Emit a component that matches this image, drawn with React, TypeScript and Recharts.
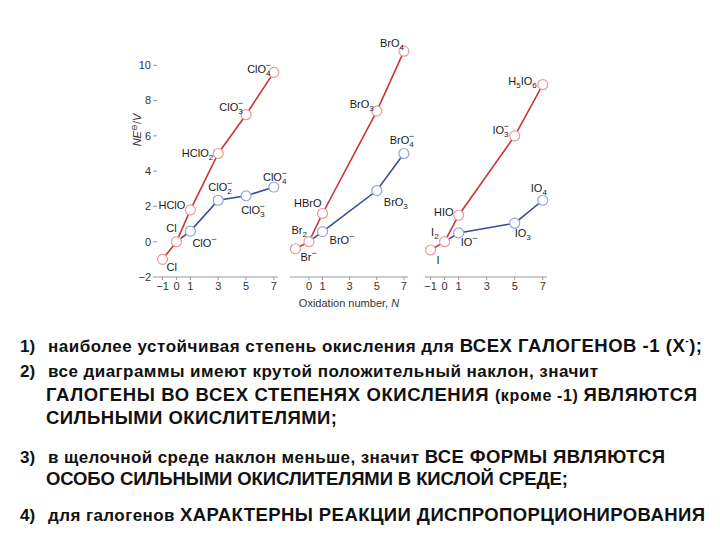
import React from 'react';
import { LineChart, Line, XAxis, YAxis, Label } from 'recharts';

// oxidation numbers, Frost diagram values (NE°/V) and species names
const clAcidOx = [-1, 0, 1, 3, 5, 7];
const clAcidVal = [-1.0, 0, 1.8, 5.0, 7.2, 9.6];
const clAcidNames = ['Cl', 'Cl', 'HClO', 'HClO2', 'ClO3-', 'ClO4-'];
const clBaseOx = [0, 1, 3, 5, 7];
const clBaseVal = [0, 0.6, 2.35, 2.6, 3.1];
const clBaseNames = ['', 'ClO-', 'ClO2-', 'ClO3-', 'ClO4-'];

const brAcidOx = [-1, 0, 1, 5, 7];
const brAcidVal = [-0.4, 0, 1.6, 7.4, 10.8];
const brAcidNames = ['Br-', 'Br2', 'HBrO', 'BrO3', 'BrO4'];
const brBaseOx = [0, 1, 5, 7];
const brBaseVal = [0, 0.57, 2.9, 5.0];
const brBaseNames = ['', 'BrO-', 'BrO3', 'BrO4-'];

const iAcidOx = [-1, 0, 1, 5, 7];
const iAcidVal = [-0.47, 0, 1.5, 6.0, 8.9];
const iAcidNames = ['I', 'I2', 'HIO', 'IO3-', 'H5IO6'];
const iBaseOx = [0, 1, 5, 7];
const iBaseVal = [0, 0.5, 1.05, 2.35];
const iBaseNames = ['', 'IO-', 'IO3', 'IO4'];

const xTicks = [-1, 0, 1, 3, 5, 7];
const yTicks = [-2, 0, 2, 4, 6, 8, 10];

// label placement next to each point: [dx, dy, anchor]
type Place = [number, number, 'start' | 'middle' | 'end'];
const clAcidPlace: Place[] = [[4, 12, 'start'], [-5, -10, 'middle'], [-5, -1, 'end'], [-5, 3, 'end'], [-3, -4, 'end'], [-3, 1, 'end']];
const clBasePlace: Place[] = [[0, 0, 'start'], [2, 16, 'start'], [2, -9, 'middle'], [7, 18, 'middle'], [1, -6, 'middle']];
const brAcidPlace: Place[] = [[5, 12, 'start'], [-2, -8, 'end'], [-1, -6, 'end'], [-3, -3, 'end'], [0, -4, 'end']];
const brBasePlace: Place[] = [[0, 0, 'start'], [7, 12, 'start'], [7, 15, 'start'], [-2, -10, 'middle']];
const iAcidPlace: Place[] = [[6, 14, 'start'], [-6, -6, 'end'], [-5, 1, 'end'], [-6, -2, 'end'], [-6, 0, 'end']];
const iBasePlace: Place[] = [[0, 0, 'start'], [2, 13, 'start'], [8, 14, 'middle'], [-4, -8, 'middle']];

const RED = '#cc3436';
const RED_DOT = '#ec9a9c';
const BLUE = '#3b4a9e';
const BLUE_DOT = '#98a4dc';
const FONT = '"Liberation Sans", Arial, sans-serif';

const toRows = (ox: number[], val: number[]) => ox.map((x, i) => ({ x, y: val[i] }));

function Formula({ x, y, anchor, text }: { x: number; y: number; anchor: string; text: string }) {
  const parts: React.ReactNode[] = [];
  let shift = 0;
  let prevSub = false;
  let buf = '';
  const flush = () => {
    if (!buf) return;
    parts.push(<tspan key={parts.length} dy={-shift} fontSize={11}>{buf}</tspan>);
    shift = 0;
    buf = '';
  };
  for (const ch of text) {
    if (/[0-9]/.test(ch)) {
      flush();
      parts.push(<tspan key={parts.length} dy={3 - shift} fontSize={8}>{ch}</tspan>);
      shift = 3;
      prevSub = true;
    } else if (ch === '-') {
      flush();
      parts.push(
        <tspan key={parts.length} dx={prevSub ? -5 : 0} dy={-5 - shift} fontSize={9}>−</tspan>
      );
      shift = -5;
      prevSub = false;
    } else {
      buf += ch;
      prevSub = false;
    }
  }
  flush();
  return (
    <text x={x} y={y} textAnchor={anchor} fontFamily={FONT} fill="#1a1a1a">
      {parts}
    </text>
  );
}

function makeDot(names: string[], places: Place[], stroke: string) {
  return (props: any) => {
    const { cx, cy, index } = props;
    const name = names[index];
    if (!name) return <g key={`d-${index}`} />;
    const [dx, dy, anchor] = places[index];
    return (
      <g key={`d-${index}`}>
        <circle cx={cx} cy={cy} r={5} fill="#fff" stroke={stroke} strokeWidth={1.2} />
        <Formula x={cx + dx} y={cy + dy} anchor={anchor} text={name} />
      </g>
    );
  };
}

interface PanelProps {
  left: number;
  plotWidth: number;
  acid: { x: number; y: number }[];
  base: { x: number; y: number }[];
  acidNames: string[];
  baseNames: string[];
  acidPlace: Place[];
  basePlace: Place[];
  yAxis?: boolean;
  xTitle?: boolean;
}

function Panel({ left, plotWidth, acid, base, acidNames, baseNames, acidPlace, basePlace, yAxis, xTitle }: PanelProps) {
  const yw = yAxis ? 37 : 0;
  return (
    <div style={{ position: 'absolute', left, top: 0 }}>
      <LineChart
        width={20 + yw + plotWidth + 20}
        height={330}
        margin={{ top: 30, right: 20, bottom: 33, left: 20 }}
      >
        <XAxis
          type="number"
          dataKey="x"
          domain={[-1.4, 7.3]}
          ticks={xTicks}
          height={20}
          tickSize={3}
          tickFormatter={(v) => (v < 0 ? `−${-v}` : `${v}`)}
          tick={{ fontSize: 11, fill: '#333', fontFamily: FONT }}
          stroke="#999"
        >
          {xTitle && (
            <Label
              content={({ viewBox }: any) => (
                <text
                  x={viewBox.x + viewBox.width / 2}
                  y={viewBox.y + 30}
                  textAnchor="middle"
                  fontSize={11}
                  fontFamily={FONT}
                  fill="#333"
                >
                  Oxidation number, <tspan fontStyle="italic">N</tspan>
                </text>
              )}
            />
          )}
        </XAxis>
        <YAxis
          type="number"
          domain={[-2, 12]}
          ticks={yAxis ? yTicks : []}
          width={yw}
          tick={yAxis ? { fontSize: 11, fill: '#333', fontFamily: FONT } : false}
          tickSize={4}
          tickFormatter={(v) => (v < 0 ? `−${-v}` : `${v}`)}
          tickLine={{ stroke: '#999' }}
          axisLine={yAxis ? false : { stroke: '#d0d0d0' }}
        >
          {yAxis && (
            <Label
              content={({ viewBox }: any) => (
                <text
                  x={viewBox.x + 21}
                  y={viewBox.y + 100}
                  transform={`rotate(-90 ${viewBox.x + 21} ${viewBox.y + 100})`}
                  textAnchor="middle"
                  fontSize={11}
                  fontFamily={FONT}
                  fill="#333"
                >
                  <tspan fontStyle="italic">NE</tspan>
                  <tspan fontSize={8} dy={-4}>⊖</tspan>
                  <tspan dy={4}>/</tspan>
                  <tspan fontStyle="italic">V</tspan>
                </text>
              )}
            />
          )}
        </YAxis>
        <Line
          data={base}
          dataKey="y"
          type="linear"
          stroke={BLUE}
          strokeWidth={1.6}
          dot={makeDot(baseNames, basePlace, BLUE_DOT)}
          activeDot={false}
          isAnimationActive={false}
        />
        <Line
          data={acid}
          dataKey="y"
          type="linear"
          stroke={RED}
          strokeWidth={1.6}
          dot={makeDot(acidNames, acidPlace, RED_DOT)}
          activeDot={false}
          isAnimationActive={false}
        />
      </LineChart>
    </div>
  );
}

// one line of the notes, stretched to the width it has in the slide
function Note({ y, x0, x1, children }: { y: number; x0: number; x1: number; children: React.ReactNode }) {
  return (
    <text x={x0} y={y} textLength={x1 - x0} lengthAdjust="spacing">
      {children}
    </text>
  );
}

const lo = (t: string) => <tspan fontSize={17}>{t}</tspan>;
const up = (t: string) => <tspan fontSize={18.5}>{t}</tspan>;

export default function App() {
  return (
    <div style={{ position: 'absolute', left: 0, top: 0, width: 720, height: 540, background: '#fff', overflow: 'hidden' }}>
      <Panel
        left={100}
        plotWidth={121}
        acid={toRows(clAcidOx, clAcidVal)}
        base={toRows(clBaseOx, clBaseVal)}
        acidNames={clAcidNames}
        baseNames={clBaseNames}
        acidPlace={clAcidPlace}
        basePlace={clBasePlace}
        yAxis
      />
      <Panel
        left={270}
        plotWidth={118}
        acid={toRows(brAcidOx, brAcidVal)}
        base={toRows(brBaseOx, brBaseVal)}
        acidNames={brAcidNames}
        baseNames={brBaseNames}
        acidPlace={brAcidPlace}
        basePlace={brBasePlace}
        xTitle
      />
      <Panel
        left={405}
        plotWidth={122}
        acid={toRows(iAcidOx, iAcidVal)}
        base={toRows(iBaseOx, iBaseVal)}
        acidNames={iAcidNames}
        baseNames={iBaseNames}
        acidPlace={iAcidPlace}
        basePlace={iBasePlace}
      />
      <svg
        width={720}
        height={540}
        style={{ position: 'absolute', left: 0, top: 0, pointerEvents: 'none' }}
        fontFamily={FONT}
        fontWeight="bold"
        fill="#111"
      >
        <text x={20} y={352} fontSize={17}>1)</text>
        <Note y={352} x0={48} x1={702}>
          {lo('наиболее устойчивая степень окисления для ')}
          {up('ВСЕХ ГАЛОГЕНОВ -1 (X')}
          <tspan fontSize={10} dy={-8}>-</tspan>
          <tspan fontSize={18.5} dy={8}>);</tspan>
        </Note>
        <text x={20} y={377} fontSize={17}>2)</text>
        <Note y={377} x0={48} x1={598}>
          {lo('все диаграммы имеют крутой положительный наклон, значит')}
        </Note>
        <Note y={401} x0={46} x1={697}>
          {up('ГАЛОГЕНЫ ВО ВСЕХ СТЕПЕНЯХ ОКИСЛЕНИЯ ')}
          <tspan fontSize={16}>(кроме -1) </tspan>
          {up('ЯВЛЯЮТСЯ')}
        </Note>
        <Note y={424} x0={46} x1={337}>
          {up('СИЛЬНЫМИ ОКИСЛИТЕЛЯМИ;')}
        </Note>
        <text x={20} y={463} fontSize={17}>3)</text>
        <Note y={463} x0={48} x1={665}>
          {lo('в щелочной среде наклон меньше, значит ')}
          {up('ВСЕ ФОРМЫ ЯВЛЯЮТСЯ')}
        </Note>
        <Note y={485} x0={46} x1={568}>
          {up('ОСОБО СИЛЬНЫМИ ОКИСЛИТЕЛЯМИ В КИСЛОЙ СРЕДЕ;')}
        </Note>
        <text x={20} y={521} fontSize={17}>4)</text>
        <Note y={521} x0={48} x1={705}>
          {lo('для галогенов ')}
          {up('ХАРАКТЕРНЫ РЕАКЦИИ ДИСПРОПОРЦИОНИРОВАНИЯ')}
        </Note>
      </svg>
    </div>
  );
}
